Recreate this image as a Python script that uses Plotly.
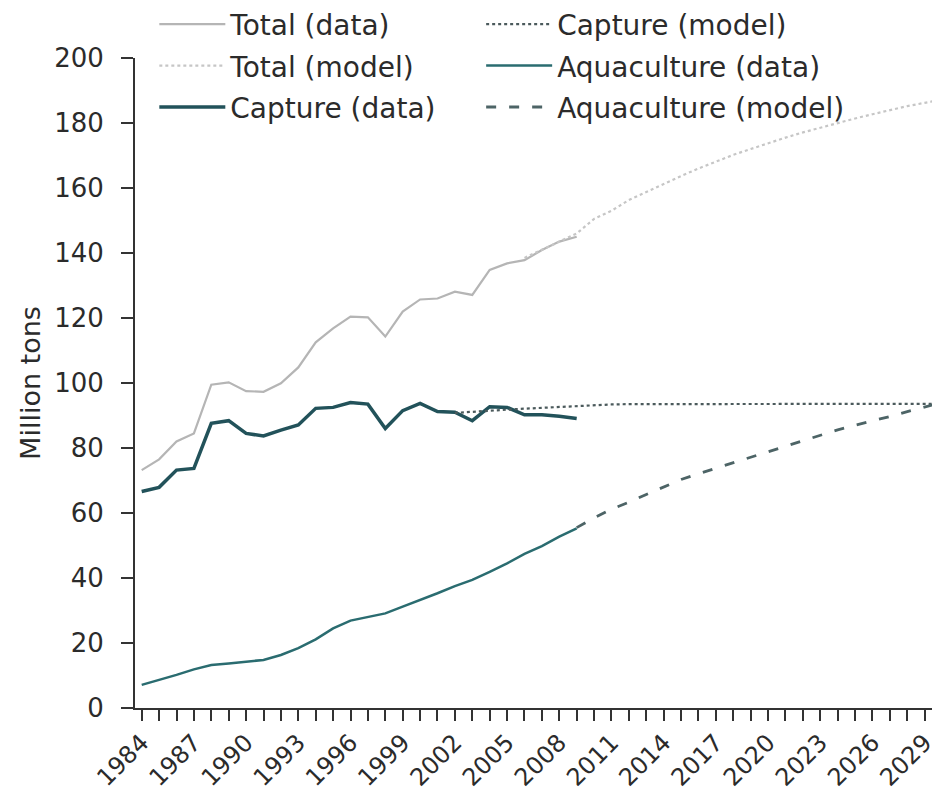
import plotly.graph_objects as go

# ---------------- data ----------------
data_years = list(range(1984, 2010))
total_data = [73.2, 76.5, 82.0, 84.5, 99.5, 100.2, 97.5, 97.3, 99.9, 104.8,
              112.5, 116.8, 120.4, 120.2, 114.3, 122.0, 125.7, 126.0, 128.1, 127.1,
              134.8, 136.8, 137.8, 140.9, 143.5, 145.0]
capture_data = [66.6, 67.9, 73.2, 73.7, 87.6, 88.4, 84.5, 83.7, 85.5, 87.1,
                92.2, 92.5, 94.0, 93.5, 86.0, 91.5, 93.7, 91.2, 91.0, 88.4,
                92.7, 92.5, 90.2, 90.2, 89.8, 89.1]
aqua_data = [7.1, 8.6, 10.2, 11.9, 13.2, 13.7, 14.3, 14.8, 16.3, 18.4,
             21.1, 24.5, 26.9, 27.9, 29.1, 31.2, 33.2, 35.3, 37.5, 39.4,
             41.9, 44.5, 47.4, 49.8, 52.7, 55.3]

total_model_years = list(range(2006, 2031))
total_model = [138.5, 141.0, 143.6, 146.0, 150.5, 153.0, 156.3, 158.8, 161.2, 163.7,
               166.0, 168.2, 170.2, 172.0, 173.8, 175.5, 177.1, 178.6, 180.0, 181.4,
               182.7, 184.0, 185.2, 186.2, 187.2]

capture_model_years = list(range(2002, 2031))
capture_model = [90.8, 91.2, 91.5, 91.8, 92.1, 92.4, 92.7, 93.0, 93.2, 93.4,
                 93.5, 93.5, 93.5, 93.5, 93.5, 93.5, 93.5, 93.5, 93.5, 93.5,
                 93.5, 93.5, 93.5, 93.6, 93.6, 93.6, 93.6, 93.6, 93.6]

aqua_model_years = list(range(2009, 2031))
aqua_model = [55.5, 58.5, 61.2, 63.3, 65.7, 68.1, 70.3, 72.1, 73.8, 75.5,
              77.3, 79.0, 80.7, 82.4, 84.0, 85.6, 87.0, 88.3, 89.7, 91.2,
              92.7, 94.0]

y_ticks = list(range(0, 201, 20))

# ---------------- styles ----------------
FONT = "DejaVu Sans"
TXT = "#2b2b2b"
C_TOTAL = "#b5b5b5"
C_TOTAL_M = "#c6c6c6"
C_CAPT = "#22525a"
C_CAPT_M = "#4b5a5c"
C_AQUA = "#2a6c70"
C_AQUA_M = "#4d6466"

fig = go.Figure()
fig.add_trace(go.Scatter(x=data_years, y=total_data, mode="lines", name="Total (data)",
                         line=dict(color=C_TOTAL, width=2.2),
                         legend="legend", legendgroup="g1", legendrank=1))
fig.add_trace(go.Scatter(x=total_model_years, y=total_model, mode="lines", name="Total (model)",
                         line=dict(color=C_TOTAL_M, width=2.2, dash="dot"),
                         legend="legend", legendgroup="g2", legendrank=2))
fig.add_trace(go.Scatter(x=data_years, y=capture_data, mode="lines", name="Capture (data)",
                         line=dict(color=C_CAPT, width=3.5),
                         legend="legend", legendgroup="g3", legendrank=3))
fig.add_trace(go.Scatter(x=capture_model_years, y=capture_model, mode="lines", name="Capture (model)",
                         line=dict(color=C_CAPT_M, width=2.2, dash="dot"),
                         legend="legend2", legendgroup="g4", legendrank=4))
fig.add_trace(go.Scatter(x=data_years, y=aqua_data, mode="lines", name="Aquaculture (data)",
                         line=dict(color=C_AQUA, width=2.5),
                         legend="legend2", legendgroup="g5", legendrank=5))
fig.add_trace(go.Scatter(x=aqua_model_years, y=aqua_model, mode="lines", name="Aquaculture (model)",
                         line=dict(color=C_AQUA_M, width=2.8, dash="10px,13px"),
                         legend="legend2", legendgroup="g6", legendrank=6))

legend_common = dict(orientation="v", yanchor="top", xanchor="left",
                     bgcolor="rgba(0,0,0,0)", font=dict(size=28, color=TXT),
                     itemwidth=66, tracegroupgap=2, traceorder="grouped")

# the page adds an 8px body margin, so the figure is sized to fill the 940x792 window
fig.update_layout(
    width=932, height=784,
    margin=dict(l=127, r=0, t=50, b=84, autoexpand=False),
    paper_bgcolor="white", plot_bgcolor="white",
    font=dict(family=FONT, color=TXT, size=25),
    showlegend=True,
    legend=dict(x=0.024, y=1.09, **legend_common),
    legend2=dict(x=0.43, y=1.09, **legend_common),
)

fig.update_xaxes(
    range=[1983.615, 2029.88], showgrid=False, zeroline=False,
    showline=True, linecolor="#333", linewidth=2,
    tickmode="linear", tick0=1984, dtick=3, tickangle=-45,
    ticks="outside", ticklen=11, tickwidth=1.6, tickcolor="#333",
    tickfont=dict(size=24, color=TXT), ticklabelstandoff=-2,
    minor=dict(tick0=1984, dtick=1, ticks="outside", ticklen=11, tickwidth=1.6, tickcolor="#333"),
)
fig.update_yaxes(
    range=[0, 200], showgrid=False, zeroline=False,
    showline=True, linecolor="#333", linewidth=2,
    tickmode="array", tickvals=y_ticks,
    ticks="outside", ticklen=12, tickwidth=1.6, tickcolor="#333",
    tickfont=dict(size=26, color=TXT), ticklabelstandoff=12,
    title=dict(text="Million tons", font=dict(size=27, color=TXT), standoff=6),
)

fig.write_html("out.html")
